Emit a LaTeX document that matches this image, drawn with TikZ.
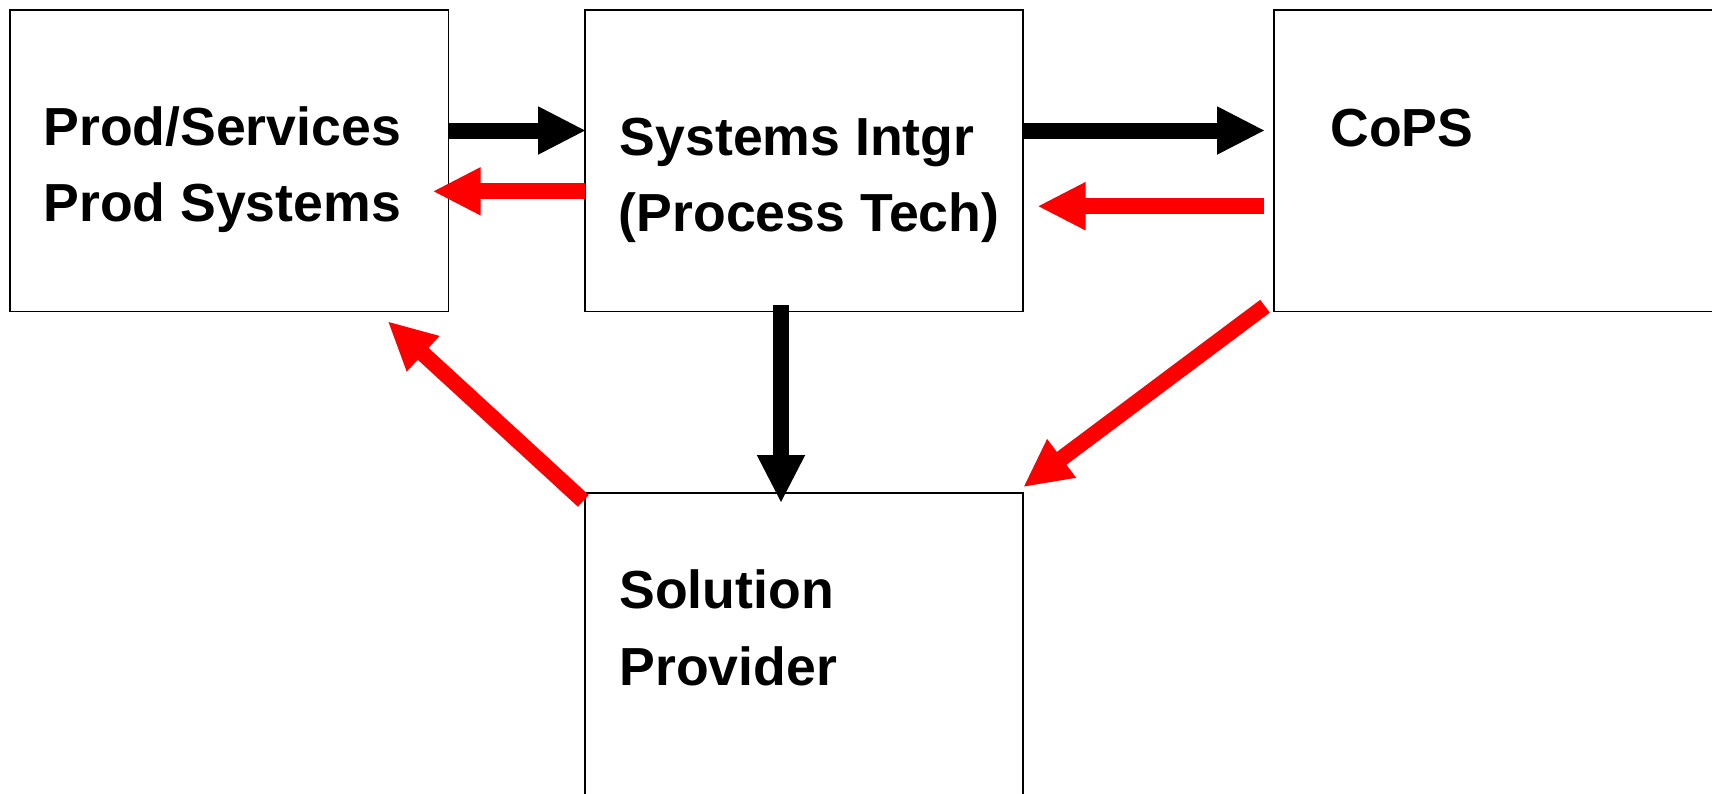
\documentclass[tikz,border=0pt]{standalone}
\usepackage{fontspec}
\setmainfont{Liberation Sans}
\usetikzlibrary{arrows.meta,calc}
\begin{document}
\begin{tikzpicture}[x=0.5pt,y=-0.5pt,
  box/.style={draw=black,line width=0.7pt,rectangle,inner sep=0pt,outer sep=0pt},
  lbl/.style={anchor=base west,inner sep=0pt,font=\fontsize{26.8pt}{38pt}\selectfont\bfseries},
  blk/.style={line width=8pt,draw=black,-{Triangle[length=23.5pt,width=24pt,line width=1pt]}},
  rd/.style={line width=8pt,draw=red,-{Triangle[length=23.5pt,width=24pt,line width=1pt]}}]
\path[use as bounding box,clip] (0,0) rectangle (1712,793);
% boxes
\node[box,minimum width=219.45pt,minimum height=150.7pt] (b1) at (229.25,160.5) {};
\node[box,minimum width=219pt,minimum height=150.7pt] (b2) at (804,160.5) {};
\node[box,minimum width=253pt,minimum height=150.7pt] (b3) at (1527,160.5) {};
\node[box,minimum width=219pt,minimum height=183.5pt] (b4) at (804,676.5) {};
% labels
\node[lbl] (t1a) at (43,145.7) {Prod/Services};
\node[lbl] (t1b) at (43,221.7) {Prod Systems};
\node[lbl] (t2a) at (619.5,155.7) {Systems Intgr};
\node[lbl] (t2b) at (618.5,231.7) {(Process Tech)};
\node[lbl] (t3) at (1330,146.2) {CoPS};
\node[lbl] (t4a) at (619,608.5) {Solution};
\node[lbl] (t4b) at (619,685.5) {Provider};
% connectors
\draw[blk] ($(b1.north east)+(0,120.7)$) -- ($(b2.north west)+(0,120.7)$);
\draw[rd] ($(b2.north west)+(0,181.5)$) -- ($(b1.north east)+(-15,181.5)$);
\draw[blk] ($(b2.north east)+(0,120.7)$) -- ($(b3.north west)+(-10,120.7)$);
\draw[rd] ($(b3.north west)+(-10,196.4)$) -- ($(b2.north east)+(15.5,196.4)$);
\draw[blk] ($(b2.south)+(-23,-6)$) -- ($(b4.north)+(-23,9)$);
\draw[rd] ($(b4.north west)+(-1.7,7.8)$) -- ($(b1.south east)+(-60.2,10.8)$);
\draw[rd] ($(b3.south west)+(-9,-5)$) -- ($(b4.north east)+(1,-6.5)$);
\end{tikzpicture}
\end{document}
